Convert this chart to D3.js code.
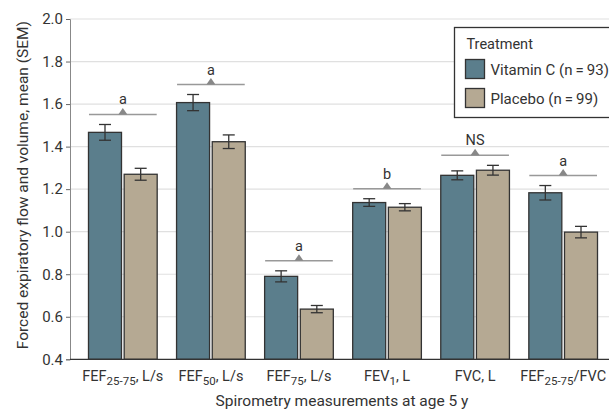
<!DOCTYPE html>
<meta charset="utf-8">
<style>
body { margin:0; background:#fff; }
svg text { font-family: "Roboto", sans-serif; fill:#333; }
</style>
<body>
<svg width="609" height="411" id="vis"></svg>
</body>
<script src="https://d3js.org/d3.v7.min.js"></script>
<script>
// measurements (label parts: main text, subscript, rest)
var categories = ["FEF25-75, L/s", "FEF50, L/s", "FEF75, L/s", "FEV1, L", "FVC, L", "FEF25-75/FVC"];
var catLabels = [["FEF","25-75",", L/s"],["FEF","50",", L/s"],["FEF","75",", L/s"],["FEV","1",", L"],["FVC, L","",""],["FEF","25-75","/FVC"]];
var vitaminC = [1.467, 1.607, 0.790, 1.137, 1.265, 1.183];
var vitaminCErr = [0.037, 0.038, 0.026, 0.018, 0.021, 0.034];
var placebo = [1.270, 1.423, 0.636, 1.115, 1.289, 0.998];
var placeboErr = [0.028, 0.032, 0.017, 0.017, 0.023, 0.027];
var signif = ["a", "a", "a", "b", "NS", "a"];
var series = ["Vitamin C (n\u2009=\u200993)", "Placebo (n\u2009=\u200999)"];
var colours = ["#5b7e8c", "#b5a993"];
var yTicks = [0.4, 0.6, 0.8, 1.0, 1.2, 1.4, 1.6, 1.8, 2.0];

var svg = d3.select("svg");
var mLeft = 70, mTop = 19, mBottom = 359.3, mRight = 609;

var x = d3.scaleBand().domain(categories).range([mLeft, 616]).paddingInner(0.22).paddingOuter(0.21);
var xs = d3.scaleBand().domain([0, 1]).range([0, x.bandwidth()]).paddingInner(0.075);
var y = d3.scaleLinear().domain([0.4, 2.0]).range([mBottom, mTop]);

// gridlines
svg.append("g").selectAll("line").data(yTicks.slice(1)).enter().append("line")
    .attr("x1", mLeft).attr("x2", mRight)
    .attr("y1", function(d){ return y(d); }).attr("y2", function(d){ return y(d); })
    .attr("stroke", "#e0e0e0").attr("stroke-width", 1.2);

// y axis
var yaxis = svg.append("g").attr("transform", "translate(" + mLeft + ",0)")
    .call(d3.axisLeft(y).tickValues(yTicks).tickFormat(d3.format(".1f")).tickSize(4).tickPadding(3));
yaxis.select(".domain").attr("stroke", "#888");
yaxis.selectAll(".tick line").attr("stroke", "#666");
yaxis.selectAll("text").attr("font-size", 15).attr("font-family", "Roboto").style("fill", "#333");

var rows = categories.map(function(c, i){
    return [{s:0, v:vitaminC[i], e:vitaminCErr[i], c:c}, {s:1, v:placebo[i], e:placeboErr[i], c:c}];
});

var groups = svg.append("g").selectAll("g").data(rows).enter().append("g")
    .attr("transform", function(d){ return "translate(" + x(d[0].c) + ",0)"; });

groups.selectAll("rect").data(function(d){ return d; }).enter().append("rect")
    .attr("x", function(d){ return xs(d.s); })
    .attr("width", xs.bandwidth())
    .attr("y", function(d){ return y(d.v); })
    .attr("height", function(d){ return y(0.4) - y(d.v); })
    .attr("fill", function(d){ return colours[d.s]; })
    .attr("stroke", "#333").attr("stroke-width", 1.3);

// error bars
var eb = groups.selectAll("g.err").data(function(d){ return d; }).enter().append("g").attr("class", "err")
    .attr("stroke", "#333").attr("stroke-width", 1.3);
eb.append("line")
    .attr("x1", function(d){ return xs(d.s) + xs.bandwidth()/2; })
    .attr("x2", function(d){ return xs(d.s) + xs.bandwidth()/2; })
    .attr("y1", function(d){ return y(d.v - d.e); })
    .attr("y2", function(d){ return y(d.v + d.e); });
[-1, 1].forEach(function(k){
    eb.append("line")
        .attr("x1", function(d){ return xs(d.s) + xs.bandwidth()/2 - 6; })
        .attr("x2", function(d){ return xs(d.s) + xs.bandwidth()/2 + 6; })
        .attr("y1", function(d){ return y(d.v + k*d.e); })
        .attr("y2", function(d){ return y(d.v + k*d.e); });
});

// significance markers
groups.each(function(d, i){
    var g = d3.select(this);
    var ly = y(Math.max(d[0].v + d[0].e, d[1].v + d[1].e)) - 10;
    var cx = x.bandwidth()/2;
    g.append("line").attr("x1", 0.5).attr("x2", x.bandwidth() - 0.5)
        .attr("y1", ly).attr("y2", ly).attr("stroke", "#999").attr("stroke-width", 1.5);
    g.append("path").attr("d", "M" + (cx-4.5) + "," + ly + "L" + (cx+4.5) + "," + ly + "L" + cx + "," + (ly-6.5) + "Z")
        .attr("fill", "#888");
    g.append("text").attr("x", cx).attr("y", ly - 10).attr("text-anchor", "middle")
        .attr("font-size", 14.5).text(signif[i]);
});

// x axis
svg.append("line").attr("x1", mLeft).attr("x2", mRight).attr("y1", mBottom).attr("y2", mBottom)
    .attr("stroke", "#333").attr("stroke-width", 1.3);
svg.append("g").selectAll("text").data(categories).enter().append("text")
    .attr("x", function(d){ return x(d) + x.bandwidth()/2; })
    .attr("y", 381).attr("text-anchor", "middle").attr("font-size", 14.5)
    .each(function(d, i){
        var t = d3.select(this), p = catLabels[i];
        t.append("tspan").text(p[0]);
        if (p[1]) t.append("tspan").attr("dy", 4).attr("font-size", 11.5).text(p[1]);
        if (p[2]) t.append("tspan").attr("dy", p[1] ? -4 : 0).text(p[2]);
    });

// axis titles
svg.append("text").attr("x", 342).attr("y", 406).attr("text-anchor", "middle")
    .attr("font-size", 15.5).text("Spirometry measurements at age 5 y");
svg.append("text").attr("transform", "translate(28," + ((mTop + mBottom)/2 - 4) + ") rotate(-90)")
    .attr("text-anchor", "middle").attr("font-size", 15.5)
    .text("Forced expiratory flow and volume, mean (SEM)");

// legend
var lg = svg.append("g").attr("transform", "translate(454.5,27.5)");
lg.append("rect").attr("width", 160).attr("height", 90).attr("fill", "#fff")
    .attr("stroke", "#333").attr("stroke-width", 1.3);
lg.append("text").attr("x", 12).attr("y", 21).attr("font-size", 14.5).text("Treatment");
series.forEach(function(s, i){
    lg.append("rect").attr("x", 11).attr("y", 32 + i*29).attr("width", 19).attr("height", 19)
        .attr("fill", colours[i]).attr("stroke", "#333").attr("stroke-width", 1.3);
    lg.append("text").attr("x", 36).attr("y", 47 + i*29).attr("font-size", 15).text(s);
});
</script>
